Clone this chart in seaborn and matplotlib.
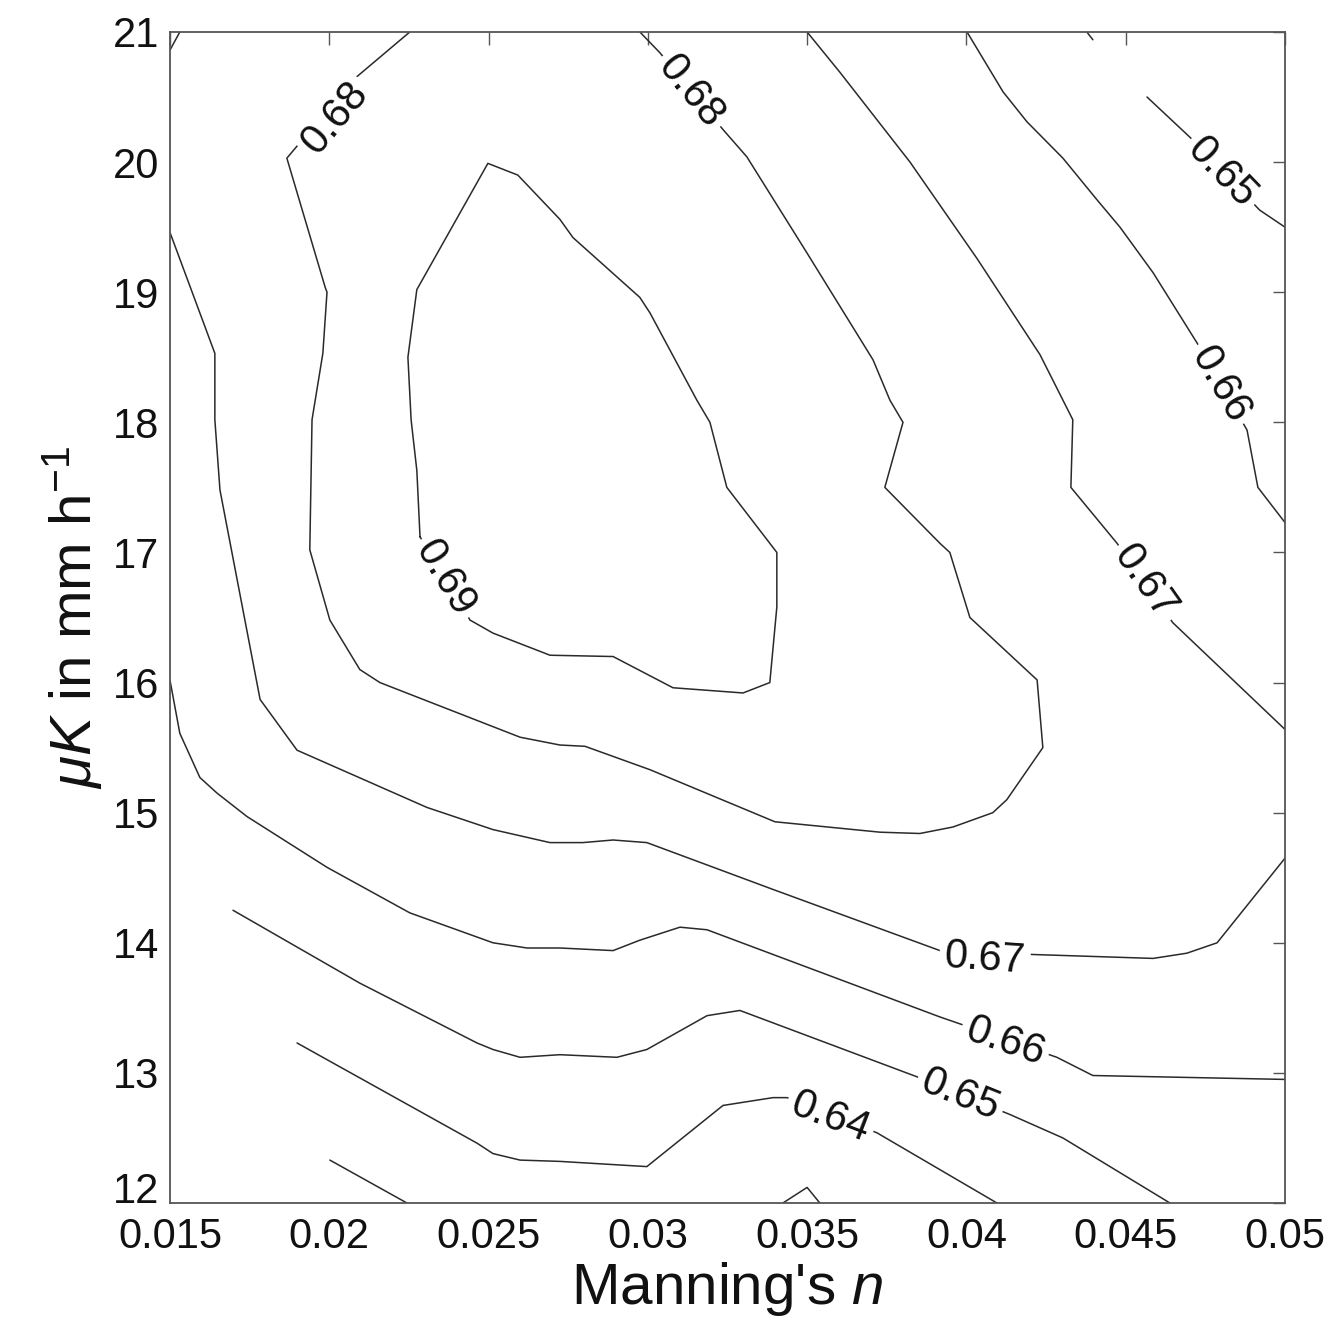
import matplotlib
matplotlib.use("Agg")
import matplotlib.pyplot as plt
import numpy as np
import pandas as pd
import seaborn as sns

# ---------------- data ----------------
x_ticks = [0.015, 0.02, 0.025, 0.03, 0.035, 0.04, 0.045, 0.05]
x_tick_labels = ["0.015", "0.02", "0.025", "0.03", "0.035", "0.04", "0.045", "0.05"]
y_ticks = [12, 13, 14, 15, 16, 17, 18, 19, 20, 21]

# contour lines: Manning's n (x) and muK (y), one pair of arrays per line
c068_outer_n = [0.02253, 0.02074, 0.01867, 0.01987, 0.01993, 0.01980, 0.01946, 0.01939, 0.02002, 0.02096,
                0.02159, 0.02599, 0.02724, 0.02803, 0.03007, 0.03399, 0.03729, 0.03854, 0.03958, 0.04083,
                0.04127, 0.04240, 0.04222, 0.04011, 0.03948, 0.03917, 0.03744, 0.03801, 0.03760, 0.03707,
                0.03500, 0.03311, 0.03236, 0.03038, 0.02975]
c068_outer_k = [21.00, 20.63, 20.03, 19.04, 19.00, 18.53, 18.02, 17.02, 16.48, 16.10,
                16.00, 15.58, 15.52, 15.51, 15.33, 14.93, 14.85, 14.84, 14.89, 15.00,
                15.10, 15.50, 16.02, 16.50, 17.00, 17.07, 17.50, 18.00, 18.17, 18.48,
                19.30, 20.04, 20.25, 20.84, 21.00]

c069_n = [0.02285, 0.02275, 0.02257, 0.02247, 0.02275, 0.02498, 0.02592, 0.02724, 0.02765, 0.02975,
          0.03007, 0.03154, 0.03195, 0.03248, 0.03405, 0.03405, 0.03383, 0.03299, 0.03079, 0.02891,
          0.02693, 0.02514, 0.02442, 0.02285]
c069_k = [17.12, 17.63, 18.02, 18.50, 19.02, 19.99, 19.90, 19.56, 19.42, 18.96,
          18.84, 18.17, 18.00, 17.50, 17.00, 16.58, 16.00, 15.92, 15.96, 16.20,
          16.21, 16.38, 16.48, 17.12]

c067_left_n = [0.0150, 0.01641, 0.01641, 0.01657, 0.01783, 0.01899, 0.02307, 0.02514, 0.02693, 0.02796,
               0.02891, 0.02997, 0.03393, 0.03917, 0.04209, 0.04586, 0.04692, 0.04787, 0.0500]
c067_left_k = [19.46, 18.53, 18.02, 17.48, 15.87, 15.48, 15.04, 14.87, 14.77, 14.77,
               14.79, 14.77, 14.41, 13.94, 13.91, 13.88, 13.92, 14.00, 14.65]

c066_left_n = [0.0150, 0.01531, 0.01594, 0.01648, 0.01742, 0.01993, 0.02253, 0.02514, 0.02621, 0.02724,
               0.02891, 0.02975, 0.03101, 0.03186, 0.03917, 0.04284, 0.04397, 0.0500]
c066_left_k = [16.02, 15.61, 15.27, 15.15, 14.97, 14.58, 14.23, 14.00, 13.96, 13.96,
               13.94, 14.02, 14.12, 14.10, 13.43, 13.12, 12.98, 12.95]

c065_low_n = [0.01698, 0.02096, 0.02464, 0.02514, 0.02599, 0.02724, 0.02903, 0.02997, 0.03186, 0.03289,
              0.03845, 0.04137, 0.04303, 0.04639]
c065_low_k = [14.25, 13.69, 13.23, 13.18, 13.12, 13.14, 13.12, 13.18, 13.44, 13.48,
              12.97, 12.68, 12.50, 12.00]

c064_n = [0.01899, 0.02464, 0.02514, 0.02599, 0.02724, 0.02997, 0.03236, 0.03393, 0.03437, 0.03719, 0.04096]
c064_k = [13.23, 12.46, 12.38, 12.33, 12.32, 12.28, 12.75, 12.81, 12.81, 12.54, 12.00]

c063_n = [0.02002, 0.02244]
c063_k = [12.33, 12.00]

c064_bump_n = [0.03424, 0.03500, 0.03540]
c064_bump_k = [12.00, 12.12, 12.00]

corner_n = [0.0150, 0.01531]
corner_k = [20.86, 21.00]

c067_right_n = [0.03500, 0.03603, 0.03823, 0.04033, 0.04231, 0.04334, 0.04328, 0.04473, 0.04648, 0.0500]
c067_right_k = [21.00, 20.69, 20.00, 19.26, 18.52, 18.02, 17.50, 17.07, 16.46, 15.64]

c066_right_n = [0.04002, 0.04115, 0.04190, 0.04303, 0.04410, 0.04482, 0.04586, 0.04724, 0.04881, 0.04915, 0.0500]
c066_right_k = [21.00, 20.54, 20.31, 20.03, 19.71, 19.50, 19.15, 18.61, 17.94, 17.50, 17.23]

c065_right_n = [0.04567, 0.04702, 0.04921, 0.0500]
c065_right_k = [20.50, 20.19, 19.63, 19.50]

top_frag_n = [0.04378, 0.04397]
top_frag_k = [21.00, 20.94]

# contour labels
label_text = ["0.68", "0.68", "0.69", "0.67", "0.66", "0.65", "0.67", "0.66", "0.65", "0.64"]
label_n = [0.02018, 0.03135, 0.02363, 0.04561, 0.04796, 0.04802, 0.04058, 0.04121, 0.03980, 0.03572]
label_k = [20.34, 20.54, 16.80, 16.77, 18.29, 19.92, 13.88, 13.24, 12.83, 12.66]
label_rot = [50, -51, -59, -55, -60, -46, -4, -19, -22, -21]

# --------------- build table ---------------
lines = {
    "c068_outer": (c068_outer_n, c068_outer_k),
    "c069": (c069_n, c069_k),
    "c067_left": (c067_left_n, c067_left_k),
    "c066_left": (c066_left_n, c066_left_k),
    "c065_low": (c065_low_n, c065_low_k),
    "c064": (c064_n, c064_k),
    "c063": (c063_n, c063_k),
    "c064_bump": (c064_bump_n, c064_bump_k),
    "corner": (corner_n, corner_k),
    "c067_right": (c067_right_n, c067_right_k),
    "c066_right": (c066_right_n, c066_right_k),
    "c065_right": (c065_right_n, c065_right_k),
    "top_frag": (top_frag_n, top_frag_k),
}
rows = []
for name, (ns, ks) in lines.items():
    for i, (a, b) in enumerate(zip(ns, ks)):
        rows.append({"seg": name, "order": i, "n": a, "K": b})
df = pd.DataFrame(rows)

# --------------- style ---------------
sns.set_style("white")
plt.rcParams["font.family"] = ["Liberation Sans", "DejaVu Sans"]
plt.rcParams["mathtext.fontset"] = "custom"
plt.rcParams["mathtext.rm"] = "Liberation Sans"
plt.rcParams["mathtext.it"] = "Liberation Sans:italic"
plt.rcParams["mathtext.bf"] = "Liberation Sans:bold"

fig = plt.figure(figsize=(13.36, 13.37), dpi=100)
ax = fig.add_axes([0.1272, 0.1002, 0.8346, 0.8759])

sns.lineplot(data=df, x="n", y="K", units="seg", estimator=None, sort=False,
             color="#2a2a2a", linewidth=1.1, ax=ax)

for t, a, b, r in zip(label_text, label_n, label_k, label_rot):
    ax.text(a, b, t, rotation=r, rotation_mode="anchor", ha="center", va="center",
            fontsize=30, color="#111111", zorder=3,
            bbox=dict(boxstyle="square,pad=0.12", fc="white", ec="none"))

ax.set_xlim(0.015, 0.05)
ax.set_ylim(12, 21)
ax.set_xticks(x_ticks)
ax.set_xticklabels(x_tick_labels)
ax.set_yticks(y_ticks)
ax.set_yticklabels([str(v) for v in y_ticks])

ax.tick_params(axis="both", direction="in", top=True, right=True, length=9, width=1.0,
               color="#555555", labelsize=30, labelcolor="#111111")
ax.tick_params(axis="x", pad=10)
ax.tick_params(axis="y", pad=8)

# lowest y tick label sits slightly above its tick (as in the reference)
ax.get_yticklabels()[0].set_verticalalignment("baseline")

for s in ax.spines.values():
    s.set_visible(True)
    s.set_color("#555555")
    s.set_linewidth(1.3)

ax.set_xlabel("Manning's $n$", fontsize=42, color="#111111", labelpad=2)
ax.set_ylabel(r"$\mu K$ in mm h$^{-1}$", fontsize=42, color="#111111", labelpad=6)

fig.savefig("out.png", dpi=100, facecolor="white")
